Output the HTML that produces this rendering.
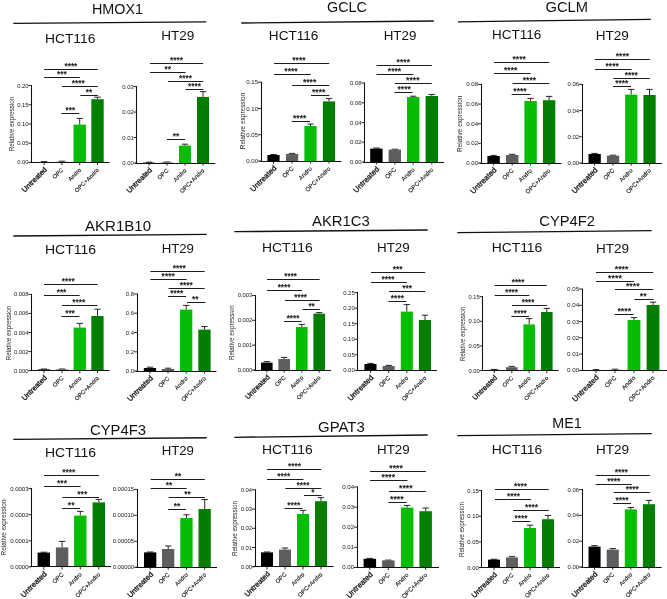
<!DOCTYPE html>
<html><head><meta charset="utf-8"><title>Figure</title>
<style>html,body{margin:0;padding:0;background:#fff;overflow:hidden}svg{display:block}</style>
</head><body>
<svg width="667" height="599" viewBox="0 0 667 599" font-family='"Liberation Sans", Arial, sans-serif'>
<rect width="667" height="599" fill="#fff"/>
<text x="117.5" y="14" font-size="14.5" text-anchor="middle" textLength="51.0" lengthAdjust="spacingAndGlyphs" fill="#111">HMOX1</text>
<line x1="13.3" y1="23.3" x2="206.3" y2="21.8" stroke="#111" stroke-width="1.35"/>
<text x="347.0" y="11.8" font-size="14.5" text-anchor="middle" textLength="40.0" lengthAdjust="spacingAndGlyphs" fill="#111">GCLC</text>
<line x1="241.3" y1="23" x2="433.8" y2="21" stroke="#111" stroke-width="1.35"/>
<text x="566.8" y="12" font-size="14.5" text-anchor="middle" textLength="42.5" lengthAdjust="spacingAndGlyphs" fill="#111">GCLM</text>
<line x1="458" y1="21.8" x2="650.8" y2="19.3" stroke="#111" stroke-width="1.35"/>
<text x="118.0" y="231" font-size="14.5" text-anchor="middle" textLength="66.0" lengthAdjust="spacingAndGlyphs" fill="#111">AKR1B10</text>
<line x1="13.3" y1="236" x2="206.7" y2="234.3" stroke="#111" stroke-width="1.35"/>
<text x="340.9" y="226" font-size="14.5" text-anchor="middle" textLength="57.7" lengthAdjust="spacingAndGlyphs" fill="#111">AKR1C3</text>
<line x1="234.3" y1="231.7" x2="427.7" y2="230" stroke="#111" stroke-width="1.35"/>
<text x="567.1" y="225.7" font-size="14.5" text-anchor="middle" textLength="55.7" lengthAdjust="spacingAndGlyphs" fill="#111">CYP4F2</text>
<line x1="457.3" y1="232.7" x2="651.7" y2="230.7" stroke="#111" stroke-width="1.35"/>
<text x="118.0" y="435" font-size="14.5" text-anchor="middle" textLength="56.0" lengthAdjust="spacingAndGlyphs" fill="#111">CYP4F3</text>
<line x1="13.3" y1="439.3" x2="206.7" y2="437.7" stroke="#111" stroke-width="1.35"/>
<text x="341.4" y="431.7" font-size="14.5" text-anchor="middle" textLength="46.7" lengthAdjust="spacingAndGlyphs" fill="#111">GPAT3</text>
<line x1="234.3" y1="437.3" x2="427.7" y2="435" stroke="#111" stroke-width="1.35"/>
<text x="567.0" y="428.3" font-size="14.5" text-anchor="middle" textLength="29.4" lengthAdjust="spacingAndGlyphs" fill="#111">ME1</text>
<line x1="457.3" y1="435.7" x2="651.7" y2="433.7" stroke="#111" stroke-width="1.35"/>
<text x="70.2" y="42.6" font-size="13.5" text-anchor="middle" textLength="50.5" lengthAdjust="spacingAndGlyphs" fill="#111">HCT116</text>
<text x="177.8" y="40" font-size="13.5" text-anchor="middle" textLength="33.0" lengthAdjust="spacingAndGlyphs" fill="#111">HT29</text>
<text x="293.6" y="40" font-size="13.5" text-anchor="middle" textLength="49.5" lengthAdjust="spacingAndGlyphs" fill="#111">HCT116</text>
<text x="400.0" y="40.2" font-size="13.5" text-anchor="middle" textLength="32.7" lengthAdjust="spacingAndGlyphs" fill="#111">HT29</text>
<text x="516.6" y="39.3" font-size="13.5" text-anchor="middle" textLength="49.3" lengthAdjust="spacingAndGlyphs" fill="#111">HCT116</text>
<text x="612.3" y="39.5" font-size="13.5" text-anchor="middle" textLength="33.0" lengthAdjust="spacingAndGlyphs" fill="#111">HT29</text>
<text x="70.5" y="254.3" font-size="13.5" text-anchor="middle" textLength="51.0" lengthAdjust="spacingAndGlyphs" fill="#111">HCT116</text>
<text x="177.8" y="253.3" font-size="13.5" text-anchor="middle" textLength="32.3" lengthAdjust="spacingAndGlyphs" fill="#111">HT29</text>
<text x="287.4" y="251.7" font-size="13.5" text-anchor="middle" textLength="50.7" lengthAdjust="spacingAndGlyphs" fill="#111">HCT116</text>
<text x="393.4" y="251.7" font-size="13.5" text-anchor="middle" textLength="32.7" lengthAdjust="spacingAndGlyphs" fill="#111">HT29</text>
<text x="517.0" y="251.7" font-size="13.5" text-anchor="middle" textLength="50.6" lengthAdjust="spacingAndGlyphs" fill="#111">HCT116</text>
<text x="612.5" y="253.3" font-size="13.5" text-anchor="middle" textLength="33.0" lengthAdjust="spacingAndGlyphs" fill="#111">HT29</text>
<text x="70.5" y="456.7" font-size="13.5" text-anchor="middle" textLength="51.0" lengthAdjust="spacingAndGlyphs" fill="#111">HCT116</text>
<text x="177.8" y="455" font-size="13.5" text-anchor="middle" textLength="32.3" lengthAdjust="spacingAndGlyphs" fill="#111">HT29</text>
<text x="287.4" y="454.3" font-size="13.5" text-anchor="middle" textLength="50.7" lengthAdjust="spacingAndGlyphs" fill="#111">HCT116</text>
<text x="393.4" y="454.3" font-size="13.5" text-anchor="middle" textLength="32.7" lengthAdjust="spacingAndGlyphs" fill="#111">HT29</text>
<text x="517.0" y="454" font-size="13.5" text-anchor="middle" textLength="50.6" lengthAdjust="spacingAndGlyphs" fill="#111">HCT116</text>
<text x="612.5" y="454.3" font-size="13.5" text-anchor="middle" textLength="33.0" lengthAdjust="spacingAndGlyphs" fill="#111">HT29</text>
<path d="M44.1 162.0V161.6M40.9 161.6H47.3" stroke="#111" stroke-width="0.9" fill="none"/>
<rect x="37.9" y="162.0" width="12.4" height="0.4" fill="#000000"/>
<path d="M61.9 161.8V161.2M58.7 161.2H65.1" stroke="#111" stroke-width="0.9" fill="none"/>
<rect x="55.7" y="161.8" width="12.4" height="0.6" fill="#5e5e5e"/>
<path d="M79.7 124.6V118.4M76.5 118.4H82.9" stroke="#111" stroke-width="0.9" fill="none"/>
<rect x="73.5" y="124.6" width="12.4" height="37.8" fill="#05bd05"/>
<path d="M97.5 99.2V97.2M94.3 97.2H100.7" stroke="#111" stroke-width="0.9" fill="none"/>
<rect x="91.3" y="99.2" width="12.4" height="63.2" fill="#027f02"/>
<path d="M31.5 85.1V162.5M30.0 162.5H109.6" stroke="#111" stroke-width="1.05" fill="none"/>
<line x1="28.4" y1="85.6" x2="31.4" y2="85.6" stroke="#111" stroke-width="0.9"/>
<text x="28.5" y="87.6" font-size="5.83" text-anchor="end" fill="#151515">0.20</text>
<line x1="28.4" y1="104.8" x2="31.4" y2="104.8" stroke="#111" stroke-width="0.9"/>
<text x="28.5" y="106.8" font-size="5.83" text-anchor="end" fill="#151515">0.15</text>
<line x1="28.4" y1="124.0" x2="31.4" y2="124.0" stroke="#111" stroke-width="0.9"/>
<text x="28.5" y="126.0" font-size="5.83" text-anchor="end" fill="#151515">0.10</text>
<line x1="28.4" y1="143.2" x2="31.4" y2="143.2" stroke="#111" stroke-width="0.9"/>
<text x="28.5" y="145.2" font-size="5.83" text-anchor="end" fill="#151515">0.05</text>
<line x1="28.4" y1="162.4" x2="31.4" y2="162.4" stroke="#111" stroke-width="0.9"/>
<text x="28.5" y="164.4" font-size="5.83" text-anchor="end" fill="#151515">0.00</text>
<line x1="44.1" y1="162.4" x2="44.1" y2="165.0" stroke="#111" stroke-width="0.9"/>
<text transform="translate(47.5 170.0) rotate(-45)" font-size="7.32" text-anchor="end" fill="#111" stroke="#111" stroke-width="0.3">Untreated</text>
<line x1="61.9" y1="162.4" x2="61.9" y2="165.0" stroke="#111" stroke-width="0.9"/>
<text transform="translate(63.8 170.4) rotate(-45)" font-size="5.83" text-anchor="end" fill="#111" stroke="#111" stroke-width="0.12">OPC</text>
<line x1="79.7" y1="162.4" x2="79.7" y2="165.0" stroke="#111" stroke-width="0.9"/>
<text transform="translate(81.6 170.4) rotate(-45)" font-size="5.83" text-anchor="end" fill="#111" stroke="#111" stroke-width="0.12">Andro</text>
<line x1="97.5" y1="162.4" x2="97.5" y2="165.0" stroke="#111" stroke-width="0.9"/>
<text transform="translate(99.4 170.4) rotate(-45)" font-size="5.83" text-anchor="end" fill="#111" stroke="#111" stroke-width="0.12">OPC+Andro</text>
<line x1="44" y1="69.5" x2="97.8" y2="69.5" stroke="#1c1c1c" stroke-width="1.05"/>
<text x="70.9" y="69" font-size="8.31" text-anchor="middle" fill="#111" stroke="#111" stroke-width="0.22">****</text>
<line x1="44" y1="77.5" x2="79.8" y2="77.5" stroke="#1c1c1c" stroke-width="1.05"/>
<text x="61.9" y="77" font-size="8.31" text-anchor="middle" fill="#111" stroke="#111" stroke-width="0.22">***</text>
<line x1="62" y1="86.5" x2="97.8" y2="86.5" stroke="#1c1c1c" stroke-width="1.05"/>
<text x="78.2" y="86" font-size="8.31" text-anchor="middle" fill="#111" stroke="#111" stroke-width="0.22">****</text>
<line x1="80.4" y1="95.5" x2="97.8" y2="95.5" stroke="#1c1c1c" stroke-width="1.05"/>
<text x="89.1" y="95" font-size="8.31" text-anchor="middle" fill="#111" stroke="#111" stroke-width="0.22">**</text>
<line x1="61.4" y1="113.5" x2="79.4" y2="113.5" stroke="#1c1c1c" stroke-width="1.05"/>
<text x="70.4" y="113" font-size="8.31" text-anchor="middle" fill="#111" stroke="#111" stroke-width="0.22">***</text>
<text transform="translate(14.2 124) rotate(-90)" font-size="6.27" text-anchor="middle" fill="#222">Relative expression</text>
<path d="M149.0 162.6V162.2M145.8 162.2H152.2" stroke="#111" stroke-width="0.9" fill="none"/>
<rect x="143.0" y="162.6" width="12" height="0.4" fill="#000000"/>
<path d="M167.0 162.5V162.0M163.8 162.0H170.2" stroke="#111" stroke-width="0.9" fill="none"/>
<rect x="161.0" y="162.5" width="12" height="0.5" fill="#5e5e5e"/>
<path d="M185.0 145.6V144.2M181.8 144.2H188.2" stroke="#111" stroke-width="0.9" fill="none"/>
<rect x="179.0" y="145.6" width="12" height="17.4" fill="#05bd05"/>
<path d="M203.0 97.0V91.6M199.8 91.6H206.2" stroke="#111" stroke-width="0.9" fill="none"/>
<rect x="197.0" y="97.0" width="12" height="66.0" fill="#027f02"/>
<path d="M136.5 86.1V163.5M135.2 163.5H215.4" stroke="#111" stroke-width="1.05" fill="none"/>
<line x1="133.6" y1="86.6" x2="136.6" y2="86.6" stroke="#111" stroke-width="0.9"/>
<text x="133.7" y="88.6" font-size="5.90" text-anchor="end" fill="#151515">0.03</text>
<line x1="133.6" y1="112.1" x2="136.6" y2="112.1" stroke="#111" stroke-width="0.9"/>
<text x="133.7" y="114.1" font-size="5.90" text-anchor="end" fill="#151515">0.02</text>
<line x1="133.6" y1="137.5" x2="136.6" y2="137.5" stroke="#111" stroke-width="0.9"/>
<text x="133.7" y="139.5" font-size="5.90" text-anchor="end" fill="#151515">0.01</text>
<line x1="133.6" y1="163.0" x2="136.6" y2="163.0" stroke="#111" stroke-width="0.9"/>
<text x="133.7" y="165.0" font-size="5.90" text-anchor="end" fill="#151515">0.00</text>
<line x1="149.0" y1="163" x2="149.0" y2="165.6" stroke="#111" stroke-width="0.9"/>
<text transform="translate(152.4 170.6) rotate(-45)" font-size="7.40" text-anchor="end" fill="#111" stroke="#111" stroke-width="0.3">Untreated</text>
<line x1="167.0" y1="163" x2="167.0" y2="165.6" stroke="#111" stroke-width="0.9"/>
<text transform="translate(168.9 171.0) rotate(-45)" font-size="5.90" text-anchor="end" fill="#111" stroke="#111" stroke-width="0.12">OPC</text>
<line x1="185.0" y1="163" x2="185.0" y2="165.6" stroke="#111" stroke-width="0.9"/>
<text transform="translate(186.9 171.0) rotate(-45)" font-size="5.90" text-anchor="end" fill="#111" stroke="#111" stroke-width="0.12">Andro</text>
<line x1="203.0" y1="163" x2="203.0" y2="165.6" stroke="#111" stroke-width="0.9"/>
<text transform="translate(204.9 171.0) rotate(-45)" font-size="5.90" text-anchor="end" fill="#111" stroke="#111" stroke-width="0.12">OPC+Andro</text>
<line x1="150" y1="63.5" x2="203.2" y2="63.5" stroke="#1c1c1c" stroke-width="1.05"/>
<text x="176.6" y="63" font-size="8.40" text-anchor="middle" fill="#111" stroke="#111" stroke-width="0.22">****</text>
<line x1="150" y1="72.5" x2="185.6" y2="72.5" stroke="#1c1c1c" stroke-width="1.05"/>
<text x="167.8" y="72" font-size="8.40" text-anchor="middle" fill="#111" stroke="#111" stroke-width="0.22">**</text>
<line x1="168" y1="81.5" x2="203.2" y2="81.5" stroke="#1c1c1c" stroke-width="1.05"/>
<text x="185.6" y="81" font-size="8.40" text-anchor="middle" fill="#111" stroke="#111" stroke-width="0.22">****</text>
<line x1="185.6" y1="89.5" x2="203.4" y2="89.5" stroke="#1c1c1c" stroke-width="1.05"/>
<text x="194.5" y="89" font-size="8.40" text-anchor="middle" fill="#111" stroke="#111" stroke-width="0.22">****</text>
<line x1="167" y1="139.5" x2="185" y2="139.5" stroke="#1c1c1c" stroke-width="1.05"/>
<text x="176.0" y="139" font-size="8.40" text-anchor="middle" fill="#111" stroke="#111" stroke-width="0.22">**</text>
<path d="M273.5 155.0V154.5M270.3 154.5H276.7" stroke="#111" stroke-width="0.9" fill="none"/>
<rect x="267.4" y="155.0" width="12.2" height="6.0" fill="#000000"/>
<path d="M292.1 154.0V153.4M288.9 153.4H295.3" stroke="#111" stroke-width="0.9" fill="none"/>
<rect x="286.0" y="154.0" width="12.2" height="7.0" fill="#5e5e5e"/>
<path d="M310.5 126.0V124.0M307.3 124.0H313.7" stroke="#111" stroke-width="0.9" fill="none"/>
<rect x="304.4" y="126.0" width="12.2" height="35.0" fill="#05bd05"/>
<path d="M329.0 101.4V98.6M325.8 98.6H332.2" stroke="#111" stroke-width="0.9" fill="none"/>
<rect x="322.9" y="101.4" width="12.2" height="59.6" fill="#027f02"/>
<path d="M261.5 81.7V161.5M259.6 161.5H341.4" stroke="#111" stroke-width="1.05" fill="none"/>
<line x1="258.0" y1="82.2" x2="261" y2="82.2" stroke="#111" stroke-width="0.9"/>
<text x="258.1" y="84.2" font-size="6.06" text-anchor="end" fill="#151515">0.15</text>
<line x1="258.0" y1="108.5" x2="261" y2="108.5" stroke="#111" stroke-width="0.9"/>
<text x="258.1" y="110.5" font-size="6.06" text-anchor="end" fill="#151515">0.10</text>
<line x1="258.0" y1="134.7" x2="261" y2="134.7" stroke="#111" stroke-width="0.9"/>
<text x="258.1" y="136.7" font-size="6.06" text-anchor="end" fill="#151515">0.05</text>
<line x1="258.0" y1="161.0" x2="261" y2="161.0" stroke="#111" stroke-width="0.9"/>
<text x="258.1" y="163.0" font-size="6.06" text-anchor="end" fill="#151515">0.00</text>
<line x1="273.5" y1="161" x2="273.5" y2="163.6" stroke="#111" stroke-width="0.9"/>
<text transform="translate(276.9 168.6) rotate(-45)" font-size="7.61" text-anchor="end" fill="#111" stroke="#111" stroke-width="0.3">Untreated</text>
<line x1="292.1" y1="161" x2="292.1" y2="163.6" stroke="#111" stroke-width="0.9"/>
<text transform="translate(294.0 169.0) rotate(-45)" font-size="6.06" text-anchor="end" fill="#111" stroke="#111" stroke-width="0.12">OPC</text>
<line x1="310.5" y1="161" x2="310.5" y2="163.6" stroke="#111" stroke-width="0.9"/>
<text transform="translate(312.4 169.0) rotate(-45)" font-size="6.06" text-anchor="end" fill="#111" stroke="#111" stroke-width="0.12">Andro</text>
<line x1="329.0" y1="161" x2="329.0" y2="163.6" stroke="#111" stroke-width="0.9"/>
<text transform="translate(330.9 169.0) rotate(-45)" font-size="6.06" text-anchor="end" fill="#111" stroke="#111" stroke-width="0.12">OPC+Andro</text>
<line x1="274" y1="63.5" x2="329.2" y2="63.5" stroke="#1c1c1c" stroke-width="1.05"/>
<text x="298.9" y="63" font-size="8.63" text-anchor="middle" fill="#111" stroke="#111" stroke-width="0.22">****</text>
<line x1="274" y1="74.5" x2="310.6" y2="74.5" stroke="#1c1c1c" stroke-width="1.05"/>
<text x="291.0" y="74" font-size="8.63" text-anchor="middle" fill="#111" stroke="#111" stroke-width="0.22">****</text>
<line x1="292" y1="85.5" x2="329.2" y2="85.5" stroke="#1c1c1c" stroke-width="1.05"/>
<text x="309.6" y="85" font-size="8.63" text-anchor="middle" fill="#111" stroke="#111" stroke-width="0.22">****</text>
<line x1="311" y1="95.5" x2="329.4" y2="95.5" stroke="#1c1c1c" stroke-width="1.05"/>
<text x="318.7" y="95" font-size="8.63" text-anchor="middle" fill="#111" stroke="#111" stroke-width="0.22">****</text>
<line x1="291.6" y1="121.5" x2="310" y2="121.5" stroke="#1c1c1c" stroke-width="1.05"/>
<text x="299.7" y="121" font-size="8.63" text-anchor="middle" fill="#111" stroke="#111" stroke-width="0.22">****</text>
<text transform="translate(244.8 121) rotate(-90)" font-size="6.47" text-anchor="middle" fill="#222">Relative expression</text>
<path d="M376.4 148.6V148.0M373.2 148.0H379.6" stroke="#111" stroke-width="0.9" fill="none"/>
<rect x="370.2" y="148.6" width="12.4" height="13.4" fill="#000000"/>
<path d="M394.8 149.6V149.2M391.6 149.2H398.0" stroke="#111" stroke-width="0.9" fill="none"/>
<rect x="388.6" y="149.6" width="12.4" height="12.4" fill="#5e5e5e"/>
<path d="M413.2 97.0V96.2M410.0 96.2H416.4" stroke="#111" stroke-width="0.9" fill="none"/>
<rect x="407.0" y="97.0" width="12.4" height="65.0" fill="#05bd05"/>
<path d="M431.8 96.0V94.4M428.6 94.4H435.0" stroke="#111" stroke-width="0.9" fill="none"/>
<rect x="425.6" y="96.0" width="12.4" height="66.0" fill="#027f02"/>
<path d="M364.5 82.5V162.5M363.2 162.5H444" stroke="#111" stroke-width="1.05" fill="none"/>
<line x1="361.6" y1="83.0" x2="364.6" y2="83.0" stroke="#111" stroke-width="0.9"/>
<text x="361.7" y="85.0" font-size="6.05" text-anchor="end" fill="#151515">0.08</text>
<line x1="361.6" y1="102.8" x2="364.6" y2="102.8" stroke="#111" stroke-width="0.9"/>
<text x="361.7" y="104.8" font-size="6.05" text-anchor="end" fill="#151515">0.06</text>
<line x1="361.6" y1="122.5" x2="364.6" y2="122.5" stroke="#111" stroke-width="0.9"/>
<text x="361.7" y="124.5" font-size="6.05" text-anchor="end" fill="#151515">0.04</text>
<line x1="361.6" y1="142.2" x2="364.6" y2="142.2" stroke="#111" stroke-width="0.9"/>
<text x="361.7" y="144.2" font-size="6.05" text-anchor="end" fill="#151515">0.02</text>
<line x1="361.6" y1="162.0" x2="364.6" y2="162.0" stroke="#111" stroke-width="0.9"/>
<text x="361.7" y="164.0" font-size="6.05" text-anchor="end" fill="#151515">0.00</text>
<line x1="376.4" y1="162" x2="376.4" y2="164.6" stroke="#111" stroke-width="0.9"/>
<text transform="translate(379.8 169.6) rotate(-45)" font-size="7.59" text-anchor="end" fill="#111" stroke="#111" stroke-width="0.3">Untreated</text>
<line x1="394.8" y1="162" x2="394.8" y2="164.6" stroke="#111" stroke-width="0.9"/>
<text transform="translate(396.7 170.0) rotate(-45)" font-size="6.05" text-anchor="end" fill="#111" stroke="#111" stroke-width="0.12">OPC</text>
<line x1="413.2" y1="162" x2="413.2" y2="164.6" stroke="#111" stroke-width="0.9"/>
<text transform="translate(415.1 170.0) rotate(-45)" font-size="6.05" text-anchor="end" fill="#111" stroke="#111" stroke-width="0.12">Andro</text>
<line x1="431.8" y1="162" x2="431.8" y2="164.6" stroke="#111" stroke-width="0.9"/>
<text transform="translate(433.7 170.0) rotate(-45)" font-size="6.05" text-anchor="end" fill="#111" stroke="#111" stroke-width="0.12">OPC+Andro</text>
<line x1="376.6" y1="65.5" x2="431.8" y2="65.5" stroke="#1c1c1c" stroke-width="1.05"/>
<text x="403.3" y="65" font-size="8.62" text-anchor="middle" fill="#111" stroke="#111" stroke-width="0.22">****</text>
<line x1="376.6" y1="74.5" x2="413.4" y2="74.5" stroke="#1c1c1c" stroke-width="1.05"/>
<text x="394.5" y="74" font-size="8.62" text-anchor="middle" fill="#111" stroke="#111" stroke-width="0.22">****</text>
<line x1="395" y1="83.5" x2="431.8" y2="83.5" stroke="#1c1c1c" stroke-width="1.05"/>
<text x="412.8" y="83" font-size="8.62" text-anchor="middle" fill="#111" stroke="#111" stroke-width="0.22">****</text>
<line x1="394.6" y1="92.5" x2="412.6" y2="92.5" stroke="#1c1c1c" stroke-width="1.05"/>
<text x="404.2" y="92" font-size="8.62" text-anchor="middle" fill="#111" stroke="#111" stroke-width="0.22">****</text>
<path d="M493.6 156.0V155.4M490.4 155.4H496.8" stroke="#111" stroke-width="0.9" fill="none"/>
<rect x="487.4" y="156.0" width="12.4" height="7.0" fill="#000000"/>
<path d="M512.2 155.0V154.3M509.0 154.3H515.4" stroke="#111" stroke-width="0.9" fill="none"/>
<rect x="506.0" y="155.0" width="12.4" height="8.0" fill="#5e5e5e"/>
<path d="M530.6 101.0V98.4M527.4 98.4H533.8" stroke="#111" stroke-width="0.9" fill="none"/>
<rect x="524.4" y="101.0" width="12.4" height="62.0" fill="#05bd05"/>
<path d="M549.1 100.2V96.4M545.9 96.4H552.3" stroke="#111" stroke-width="0.9" fill="none"/>
<rect x="542.9" y="100.2" width="12.4" height="62.8" fill="#027f02"/>
<path d="M481.5 83.9V163.5M479.6 163.5H561.4" stroke="#111" stroke-width="1.05" fill="none"/>
<line x1="478.0" y1="84.4" x2="481" y2="84.4" stroke="#111" stroke-width="0.9"/>
<text x="478.1" y="86.4" font-size="6.06" text-anchor="end" fill="#151515">0.08</text>
<line x1="478.0" y1="104.1" x2="481" y2="104.1" stroke="#111" stroke-width="0.9"/>
<text x="478.1" y="106.1" font-size="6.06" text-anchor="end" fill="#151515">0.06</text>
<line x1="478.0" y1="123.7" x2="481" y2="123.7" stroke="#111" stroke-width="0.9"/>
<text x="478.1" y="125.7" font-size="6.06" text-anchor="end" fill="#151515">0.04</text>
<line x1="478.0" y1="143.3" x2="481" y2="143.3" stroke="#111" stroke-width="0.9"/>
<text x="478.1" y="145.3" font-size="6.06" text-anchor="end" fill="#151515">0.02</text>
<line x1="478.0" y1="163.0" x2="481" y2="163.0" stroke="#111" stroke-width="0.9"/>
<text x="478.1" y="165.0" font-size="6.06" text-anchor="end" fill="#151515">0.00</text>
<line x1="493.6" y1="163" x2="493.6" y2="165.6" stroke="#111" stroke-width="0.9"/>
<text transform="translate(497.0 170.6) rotate(-45)" font-size="7.61" text-anchor="end" fill="#111" stroke="#111" stroke-width="0.3">Untreated</text>
<line x1="512.2" y1="163" x2="512.2" y2="165.6" stroke="#111" stroke-width="0.9"/>
<text transform="translate(514.1 171.0) rotate(-45)" font-size="6.06" text-anchor="end" fill="#111" stroke="#111" stroke-width="0.12">OPC</text>
<line x1="530.6" y1="163" x2="530.6" y2="165.6" stroke="#111" stroke-width="0.9"/>
<text transform="translate(532.5 171.0) rotate(-45)" font-size="6.06" text-anchor="end" fill="#111" stroke="#111" stroke-width="0.12">Andro</text>
<line x1="549.1" y1="163" x2="549.1" y2="165.6" stroke="#111" stroke-width="0.9"/>
<text transform="translate(551.0 171.0) rotate(-45)" font-size="6.06" text-anchor="end" fill="#111" stroke="#111" stroke-width="0.12">OPC+Andro</text>
<line x1="494" y1="62.5" x2="549.2" y2="62.5" stroke="#1c1c1c" stroke-width="1.05"/>
<text x="519.2" y="62" font-size="8.63" text-anchor="middle" fill="#111" stroke="#111" stroke-width="0.22">****</text>
<line x1="494" y1="73.5" x2="530.6" y2="73.5" stroke="#1c1c1c" stroke-width="1.05"/>
<text x="510.7" y="73" font-size="8.63" text-anchor="middle" fill="#111" stroke="#111" stroke-width="0.22">****</text>
<line x1="512.6" y1="83.5" x2="549.2" y2="83.5" stroke="#1c1c1c" stroke-width="1.05"/>
<text x="529.4" y="83" font-size="8.63" text-anchor="middle" fill="#111" stroke="#111" stroke-width="0.22">****</text>
<line x1="511.6" y1="94.5" x2="530.4" y2="94.5" stroke="#1c1c1c" stroke-width="1.05"/>
<text x="520.0" y="94" font-size="8.63" text-anchor="middle" fill="#111" stroke="#111" stroke-width="0.22">****</text>
<text transform="translate(461.6 123.8) rotate(-90)" font-size="6.47" text-anchor="middle" fill="#222">Relative expression</text>
<path d="M594.6 154.0V153.4M591.4 153.4H597.8" stroke="#111" stroke-width="0.9" fill="none"/>
<rect x="588.5" y="154.0" width="12.3" height="9.0" fill="#000000"/>
<path d="M613.0 155.6V155.2M609.8 155.2H616.2" stroke="#111" stroke-width="0.9" fill="none"/>
<rect x="606.9" y="155.6" width="12.3" height="7.4" fill="#5e5e5e"/>
<path d="M631.2 94.6V89.4M628.0 89.4H634.4" stroke="#111" stroke-width="0.9" fill="none"/>
<rect x="625.1" y="94.6" width="12.3" height="68.4" fill="#05bd05"/>
<path d="M649.5 95.0V89.4M646.3 89.4H652.7" stroke="#111" stroke-width="0.9" fill="none"/>
<rect x="643.4" y="95.0" width="12.3" height="68.0" fill="#027f02"/>
<path d="M582.5 83.9V163.5M580.6 163.5H662" stroke="#111" stroke-width="1.05" fill="none"/>
<line x1="579.0" y1="84.4" x2="582" y2="84.4" stroke="#111" stroke-width="0.9"/>
<text x="579.1" y="86.4" font-size="6.00" text-anchor="end" fill="#151515">0.06</text>
<line x1="579.0" y1="110.6" x2="582" y2="110.6" stroke="#111" stroke-width="0.9"/>
<text x="579.1" y="112.6" font-size="6.00" text-anchor="end" fill="#151515">0.04</text>
<line x1="579.0" y1="136.8" x2="582" y2="136.8" stroke="#111" stroke-width="0.9"/>
<text x="579.1" y="138.8" font-size="6.00" text-anchor="end" fill="#151515">0.02</text>
<line x1="579.0" y1="163.0" x2="582" y2="163.0" stroke="#111" stroke-width="0.9"/>
<text x="579.1" y="165.0" font-size="6.00" text-anchor="end" fill="#151515">0.00</text>
<line x1="594.6" y1="163" x2="594.6" y2="165.6" stroke="#111" stroke-width="0.9"/>
<text transform="translate(598.0 170.6) rotate(-45)" font-size="7.52" text-anchor="end" fill="#111" stroke="#111" stroke-width="0.3">Untreated</text>
<line x1="613.0" y1="163" x2="613.0" y2="165.6" stroke="#111" stroke-width="0.9"/>
<text transform="translate(614.9 171.0) rotate(-45)" font-size="6.00" text-anchor="end" fill="#111" stroke="#111" stroke-width="0.12">OPC</text>
<line x1="631.2" y1="163" x2="631.2" y2="165.6" stroke="#111" stroke-width="0.9"/>
<text transform="translate(633.1 171.0) rotate(-45)" font-size="6.00" text-anchor="end" fill="#111" stroke="#111" stroke-width="0.12">Andro</text>
<line x1="649.5" y1="163" x2="649.5" y2="165.6" stroke="#111" stroke-width="0.9"/>
<text transform="translate(651.4 171.0) rotate(-45)" font-size="6.00" text-anchor="end" fill="#111" stroke="#111" stroke-width="0.12">OPC+Andro</text>
<line x1="595" y1="59.5" x2="649.8" y2="59.5" stroke="#1c1c1c" stroke-width="1.05"/>
<text x="622.4" y="59" font-size="8.54" text-anchor="middle" fill="#111" stroke="#111" stroke-width="0.22">****</text>
<line x1="595" y1="69.5" x2="631.4" y2="69.5" stroke="#1c1c1c" stroke-width="1.05"/>
<text x="612.2" y="69" font-size="8.54" text-anchor="middle" fill="#111" stroke="#111" stroke-width="0.22">****</text>
<line x1="613.4" y1="78.5" x2="649.8" y2="78.5" stroke="#1c1c1c" stroke-width="1.05"/>
<text x="631.3" y="78" font-size="8.54" text-anchor="middle" fill="#111" stroke="#111" stroke-width="0.22">****</text>
<line x1="613" y1="86.5" x2="631" y2="86.5" stroke="#1c1c1c" stroke-width="1.05"/>
<text x="621.8" y="86" font-size="8.54" text-anchor="middle" fill="#111" stroke="#111" stroke-width="0.22">****</text>
<path d="M44.0 369.4V369.0M40.8 369.0H47.2" stroke="#111" stroke-width="0.9" fill="none"/>
<rect x="37.9" y="369.4" width="12.3" height="1.2" fill="#000000"/>
<path d="M62.0 369.4V369.0M58.8 369.0H65.2" stroke="#111" stroke-width="0.9" fill="none"/>
<rect x="55.9" y="369.4" width="12.3" height="1.2" fill="#5e5e5e"/>
<path d="M79.8 327.6V323.4M76.6 323.4H83.0" stroke="#111" stroke-width="0.9" fill="none"/>
<rect x="73.6" y="327.6" width="12.3" height="43.0" fill="#05bd05"/>
<path d="M97.5 316.0V309.2M94.3 309.2H100.7" stroke="#111" stroke-width="0.9" fill="none"/>
<rect x="91.3" y="316.0" width="12.3" height="54.6" fill="#027f02"/>
<path d="M31.5 293.9V370.5M30.0 370.5H109.6" stroke="#111" stroke-width="1.05" fill="none"/>
<line x1="28.4" y1="294.4" x2="31.4" y2="294.4" stroke="#111" stroke-width="0.9"/>
<text x="28.5" y="296.4" font-size="5.85" text-anchor="end" fill="#151515">0.008</text>
<line x1="28.4" y1="313.4" x2="31.4" y2="313.4" stroke="#111" stroke-width="0.9"/>
<text x="28.5" y="315.4" font-size="5.85" text-anchor="end" fill="#151515">0.006</text>
<line x1="28.4" y1="332.5" x2="31.4" y2="332.5" stroke="#111" stroke-width="0.9"/>
<text x="28.5" y="334.5" font-size="5.85" text-anchor="end" fill="#151515">0.004</text>
<line x1="28.4" y1="351.6" x2="31.4" y2="351.6" stroke="#111" stroke-width="0.9"/>
<text x="28.5" y="353.6" font-size="5.85" text-anchor="end" fill="#151515">0.002</text>
<line x1="28.4" y1="370.6" x2="31.4" y2="370.6" stroke="#111" stroke-width="0.9"/>
<text x="28.5" y="372.6" font-size="5.85" text-anchor="end" fill="#151515">0.000</text>
<line x1="44.0" y1="370.6" x2="44.0" y2="373.2" stroke="#111" stroke-width="0.9"/>
<text transform="translate(47.4 378.2) rotate(-45)" font-size="7.33" text-anchor="end" fill="#111" stroke="#111" stroke-width="0.3">Untreated</text>
<line x1="62.0" y1="370.6" x2="62.0" y2="373.2" stroke="#111" stroke-width="0.9"/>
<text transform="translate(63.9 378.6) rotate(-45)" font-size="5.85" text-anchor="end" fill="#111" stroke="#111" stroke-width="0.12">OPC</text>
<line x1="79.8" y1="370.6" x2="79.8" y2="373.2" stroke="#111" stroke-width="0.9"/>
<text transform="translate(81.7 378.6) rotate(-45)" font-size="5.85" text-anchor="end" fill="#111" stroke="#111" stroke-width="0.12">Andro</text>
<line x1="97.5" y1="370.6" x2="97.5" y2="373.2" stroke="#111" stroke-width="0.9"/>
<text transform="translate(99.4 378.6) rotate(-45)" font-size="5.85" text-anchor="end" fill="#111" stroke="#111" stroke-width="0.12">OPC+Andro</text>
<line x1="44" y1="284.5" x2="97.6" y2="284.5" stroke="#1c1c1c" stroke-width="1.05"/>
<text x="68.3" y="284" font-size="8.32" text-anchor="middle" fill="#111" stroke="#111" stroke-width="0.22">****</text>
<line x1="44" y1="295.5" x2="79.6" y2="295.5" stroke="#1c1c1c" stroke-width="1.05"/>
<text x="61.5" y="295" font-size="8.32" text-anchor="middle" fill="#111" stroke="#111" stroke-width="0.22">***</text>
<line x1="62" y1="305.5" x2="97.6" y2="305.5" stroke="#1c1c1c" stroke-width="1.05"/>
<text x="78.8" y="305" font-size="8.32" text-anchor="middle" fill="#111" stroke="#111" stroke-width="0.22">****</text>
<line x1="61.4" y1="316.5" x2="79.4" y2="316.5" stroke="#1c1c1c" stroke-width="1.05"/>
<text x="70.0" y="316" font-size="8.32" text-anchor="middle" fill="#111" stroke="#111" stroke-width="0.22">***</text>
<text transform="translate(10.6 333) rotate(-90)" font-size="6.27" text-anchor="middle" fill="#222">Relative expression</text>
<path d="M150.0 368.0V367.2M146.8 367.2H153.2" stroke="#111" stroke-width="0.9" fill="none"/>
<rect x="143.8" y="368.0" width="12.3" height="3.0" fill="#000000"/>
<path d="M168.0 369.0V368.2M164.8 368.2H171.2" stroke="#111" stroke-width="0.9" fill="none"/>
<rect x="161.8" y="369.0" width="12.3" height="2.0" fill="#5e5e5e"/>
<path d="M186.2 309.6V305.4M183.0 305.4H189.4" stroke="#111" stroke-width="0.9" fill="none"/>
<rect x="180.0" y="309.6" width="12.3" height="61.4" fill="#05bd05"/>
<path d="M204.5 329.6V326.6M201.3 326.6H207.7" stroke="#111" stroke-width="0.9" fill="none"/>
<rect x="198.3" y="329.6" width="12.3" height="41.4" fill="#027f02"/>
<path d="M137.5 293.5V371.5M135.6 371.5H216.4" stroke="#111" stroke-width="1.05" fill="none"/>
<line x1="134.0" y1="294.0" x2="137" y2="294.0" stroke="#111" stroke-width="0.9"/>
<text x="134.1" y="296.0" font-size="5.95" text-anchor="end" fill="#151515">0.8</text>
<line x1="134.0" y1="313.2" x2="137" y2="313.2" stroke="#111" stroke-width="0.9"/>
<text x="134.1" y="315.2" font-size="5.95" text-anchor="end" fill="#151515">0.6</text>
<line x1="134.0" y1="332.5" x2="137" y2="332.5" stroke="#111" stroke-width="0.9"/>
<text x="134.1" y="334.5" font-size="5.95" text-anchor="end" fill="#151515">0.4</text>
<line x1="134.0" y1="351.8" x2="137" y2="351.8" stroke="#111" stroke-width="0.9"/>
<text x="134.1" y="353.8" font-size="5.95" text-anchor="end" fill="#151515">0.2</text>
<line x1="134.0" y1="371.0" x2="137" y2="371.0" stroke="#111" stroke-width="0.9"/>
<text x="134.1" y="373.0" font-size="5.95" text-anchor="end" fill="#151515">0.0</text>
<line x1="150.0" y1="371" x2="150.0" y2="373.6" stroke="#111" stroke-width="0.9"/>
<text transform="translate(153.4 378.6) rotate(-45)" font-size="7.47" text-anchor="end" fill="#111" stroke="#111" stroke-width="0.3">Untreated</text>
<line x1="168.0" y1="371" x2="168.0" y2="373.6" stroke="#111" stroke-width="0.9"/>
<text transform="translate(169.9 379.0) rotate(-45)" font-size="5.95" text-anchor="end" fill="#111" stroke="#111" stroke-width="0.12">OPC</text>
<line x1="186.2" y1="371" x2="186.2" y2="373.6" stroke="#111" stroke-width="0.9"/>
<text transform="translate(188.1 379.0) rotate(-45)" font-size="5.95" text-anchor="end" fill="#111" stroke="#111" stroke-width="0.12">Andro</text>
<line x1="204.5" y1="371" x2="204.5" y2="373.6" stroke="#111" stroke-width="0.9"/>
<text transform="translate(206.4 379.0) rotate(-45)" font-size="5.95" text-anchor="end" fill="#111" stroke="#111" stroke-width="0.12">OPC+Andro</text>
<line x1="150.4" y1="271.5" x2="204.6" y2="271.5" stroke="#1c1c1c" stroke-width="1.05"/>
<text x="179.3" y="271" font-size="8.48" text-anchor="middle" fill="#111" stroke="#111" stroke-width="0.22">****</text>
<line x1="150.4" y1="279.5" x2="186.6" y2="279.5" stroke="#1c1c1c" stroke-width="1.05"/>
<text x="168.2" y="279" font-size="8.48" text-anchor="middle" fill="#111" stroke="#111" stroke-width="0.22">****</text>
<line x1="168.6" y1="288.5" x2="204.6" y2="288.5" stroke="#1c1c1c" stroke-width="1.05"/>
<text x="186.3" y="288" font-size="8.48" text-anchor="middle" fill="#111" stroke="#111" stroke-width="0.22">****</text>
<line x1="168" y1="296.5" x2="186" y2="296.5" stroke="#1c1c1c" stroke-width="1.05"/>
<text x="176.8" y="296" font-size="8.48" text-anchor="middle" fill="#111" stroke="#111" stroke-width="0.22">****</text>
<line x1="187" y1="302.5" x2="205.4" y2="302.5" stroke="#1c1c1c" stroke-width="1.05"/>
<text x="195.3" y="302" font-size="8.48" text-anchor="middle" fill="#111" stroke="#111" stroke-width="0.22">**</text>
<path d="M266.8 362.6V361.6M263.6 361.6H270.0" stroke="#111" stroke-width="0.9" fill="none"/>
<rect x="261.0" y="362.6" width="11.6" height="7.4" fill="#000000"/>
<path d="M284.2 359.0V357.4M281.0 357.4H287.4" stroke="#111" stroke-width="0.9" fill="none"/>
<rect x="278.4" y="359.0" width="11.6" height="11.0" fill="#5e5e5e"/>
<path d="M301.8 327.0V324.4M298.6 324.4H305.0" stroke="#111" stroke-width="0.9" fill="none"/>
<rect x="296.0" y="327.0" width="11.6" height="43.0" fill="#05bd05"/>
<path d="M319.2 313.6V312.6M316.0 312.6H322.4" stroke="#111" stroke-width="0.9" fill="none"/>
<rect x="313.4" y="313.6" width="11.6" height="56.4" fill="#027f02"/>
<path d="M255.5 294.9V370.5M253.6 370.5H331" stroke="#111" stroke-width="1.05" fill="none"/>
<line x1="252.0" y1="295.4" x2="255" y2="295.4" stroke="#111" stroke-width="0.9"/>
<text x="252.1" y="297.4" font-size="5.77" text-anchor="end" fill="#151515">0.003</text>
<line x1="252.0" y1="320.3" x2="255" y2="320.3" stroke="#111" stroke-width="0.9"/>
<text x="252.1" y="322.3" font-size="5.77" text-anchor="end" fill="#151515">0.002</text>
<line x1="252.0" y1="345.1" x2="255" y2="345.1" stroke="#111" stroke-width="0.9"/>
<text x="252.1" y="347.1" font-size="5.77" text-anchor="end" fill="#151515">0.001</text>
<line x1="252.0" y1="370.0" x2="255" y2="370.0" stroke="#111" stroke-width="0.9"/>
<text x="252.1" y="372.0" font-size="5.77" text-anchor="end" fill="#151515">0.000</text>
<line x1="266.8" y1="370" x2="266.8" y2="372.6" stroke="#111" stroke-width="0.9"/>
<text transform="translate(270.2 377.6) rotate(-45)" font-size="7.18" text-anchor="end" fill="#111" stroke="#111" stroke-width="0.3">Untreated</text>
<line x1="284.2" y1="370" x2="284.2" y2="372.6" stroke="#111" stroke-width="0.9"/>
<text transform="translate(286.1 378.0) rotate(-45)" font-size="5.77" text-anchor="end" fill="#111" stroke="#111" stroke-width="0.12">OPC</text>
<line x1="301.8" y1="370" x2="301.8" y2="372.6" stroke="#111" stroke-width="0.9"/>
<text transform="translate(303.7 378.0) rotate(-45)" font-size="5.77" text-anchor="end" fill="#111" stroke="#111" stroke-width="0.12">Andro</text>
<line x1="319.2" y1="370" x2="319.2" y2="372.6" stroke="#111" stroke-width="0.9"/>
<text transform="translate(321.1 378.0) rotate(-45)" font-size="5.77" text-anchor="end" fill="#111" stroke="#111" stroke-width="0.12">OPC+Andro</text>
<line x1="267" y1="279.5" x2="319.6" y2="279.5" stroke="#1c1c1c" stroke-width="1.05"/>
<text x="290.7" y="279" font-size="8.15" text-anchor="middle" fill="#111" stroke="#111" stroke-width="0.22">****</text>
<line x1="267" y1="290.5" x2="302" y2="290.5" stroke="#1c1c1c" stroke-width="1.05"/>
<text x="284.0" y="290" font-size="8.15" text-anchor="middle" fill="#111" stroke="#111" stroke-width="0.22">****</text>
<line x1="285" y1="300.5" x2="319.6" y2="300.5" stroke="#1c1c1c" stroke-width="1.05"/>
<text x="300.7" y="300" font-size="8.15" text-anchor="middle" fill="#111" stroke="#111" stroke-width="0.22">****</text>
<line x1="302.6" y1="309.5" x2="319.8" y2="309.5" stroke="#1c1c1c" stroke-width="1.05"/>
<text x="311.6" y="309" font-size="8.15" text-anchor="middle" fill="#111" stroke="#111" stroke-width="0.22">**</text>
<line x1="284" y1="321.5" x2="301.6" y2="321.5" stroke="#1c1c1c" stroke-width="1.05"/>
<text x="293.0" y="321" font-size="8.15" text-anchor="middle" fill="#111" stroke="#111" stroke-width="0.22">****</text>
<text transform="translate(234.2 332.7) rotate(-90)" font-size="6.27" text-anchor="middle" fill="#222">Relative expression</text>
<path d="M370.5 364.0V363.4M367.3 363.4H373.7" stroke="#111" stroke-width="0.9" fill="none"/>
<rect x="364.4" y="364.0" width="12.1" height="6.4" fill="#000000"/>
<path d="M388.7 366.0V365.4M385.5 365.4H391.9" stroke="#111" stroke-width="0.9" fill="none"/>
<rect x="382.6" y="366.0" width="12.1" height="4.4" fill="#5e5e5e"/>
<path d="M406.8 311.6V304.6M403.6 304.6H410.0" stroke="#111" stroke-width="0.9" fill="none"/>
<rect x="400.8" y="311.6" width="12.1" height="58.8" fill="#05bd05"/>
<path d="M425.0 320.0V315.2M421.8 315.2H428.2" stroke="#111" stroke-width="0.9" fill="none"/>
<rect x="418.9" y="320.0" width="12.1" height="50.4" fill="#027f02"/>
<path d="M357.5 292.1V370.5M356.2 370.5H437" stroke="#111" stroke-width="1.05" fill="none"/>
<line x1="354.6" y1="292.6" x2="357.6" y2="292.6" stroke="#111" stroke-width="0.9"/>
<text x="354.7" y="294.6" font-size="5.95" text-anchor="end" fill="#151515">0.25</text>
<line x1="354.6" y1="308.2" x2="357.6" y2="308.2" stroke="#111" stroke-width="0.9"/>
<text x="354.7" y="310.2" font-size="5.95" text-anchor="end" fill="#151515">0.20</text>
<line x1="354.6" y1="323.7" x2="357.6" y2="323.7" stroke="#111" stroke-width="0.9"/>
<text x="354.7" y="325.7" font-size="5.95" text-anchor="end" fill="#151515">0.15</text>
<line x1="354.6" y1="339.3" x2="357.6" y2="339.3" stroke="#111" stroke-width="0.9"/>
<text x="354.7" y="341.3" font-size="5.95" text-anchor="end" fill="#151515">0.10</text>
<line x1="354.6" y1="354.8" x2="357.6" y2="354.8" stroke="#111" stroke-width="0.9"/>
<text x="354.7" y="356.8" font-size="5.95" text-anchor="end" fill="#151515">0.05</text>
<line x1="354.6" y1="370.4" x2="357.6" y2="370.4" stroke="#111" stroke-width="0.9"/>
<text x="354.7" y="372.4" font-size="5.95" text-anchor="end" fill="#151515">0.00</text>
<line x1="370.5" y1="370.4" x2="370.5" y2="373.0" stroke="#111" stroke-width="0.9"/>
<text transform="translate(373.9 378.0) rotate(-45)" font-size="7.47" text-anchor="end" fill="#111" stroke="#111" stroke-width="0.3">Untreated</text>
<line x1="388.7" y1="370.4" x2="388.7" y2="373.0" stroke="#111" stroke-width="0.9"/>
<text transform="translate(390.6 378.4) rotate(-45)" font-size="5.95" text-anchor="end" fill="#111" stroke="#111" stroke-width="0.12">OPC</text>
<line x1="406.8" y1="370.4" x2="406.8" y2="373.0" stroke="#111" stroke-width="0.9"/>
<text transform="translate(408.7 378.4) rotate(-45)" font-size="5.95" text-anchor="end" fill="#111" stroke="#111" stroke-width="0.12">Andro</text>
<line x1="425.0" y1="370.4" x2="425.0" y2="373.0" stroke="#111" stroke-width="0.9"/>
<text transform="translate(426.9 378.4) rotate(-45)" font-size="5.95" text-anchor="end" fill="#111" stroke="#111" stroke-width="0.12">OPC+Andro</text>
<line x1="371" y1="272.5" x2="425.2" y2="272.5" stroke="#1c1c1c" stroke-width="1.05"/>
<text x="397.6" y="272" font-size="8.48" text-anchor="middle" fill="#111" stroke="#111" stroke-width="0.22">***</text>
<line x1="371" y1="282.5" x2="407" y2="282.5" stroke="#1c1c1c" stroke-width="1.05"/>
<text x="388.0" y="282" font-size="8.48" text-anchor="middle" fill="#111" stroke="#111" stroke-width="0.22">****</text>
<line x1="389" y1="291.5" x2="425.2" y2="291.5" stroke="#1c1c1c" stroke-width="1.05"/>
<text x="407.1" y="291" font-size="8.48" text-anchor="middle" fill="#111" stroke="#111" stroke-width="0.22">***</text>
<line x1="388.4" y1="301.5" x2="406.4" y2="301.5" stroke="#1c1c1c" stroke-width="1.05"/>
<text x="397.4" y="301" font-size="8.48" text-anchor="middle" fill="#111" stroke="#111" stroke-width="0.22">****</text>
<path d="M494.3 369.8V369.4M491.1 369.4H497.5" stroke="#111" stroke-width="0.9" fill="none"/>
<rect x="488.5" y="369.8" width="11.6" height="0.8" fill="#000000"/>
<path d="M511.8 367.2V366.4M508.6 366.4H515.0" stroke="#111" stroke-width="0.9" fill="none"/>
<rect x="506.0" y="367.2" width="11.6" height="3.4" fill="#5e5e5e"/>
<path d="M529.2 324.4V318.6M526.0 318.6H532.4" stroke="#111" stroke-width="0.9" fill="none"/>
<rect x="523.4" y="324.4" width="11.6" height="46.2" fill="#05bd05"/>
<path d="M546.8 312.0V308.4M543.6 308.4H550.0" stroke="#111" stroke-width="0.9" fill="none"/>
<rect x="541.0" y="312.0" width="11.6" height="58.6" fill="#027f02"/>
<path d="M482.5 296.1V370.5M481.2 370.5H558.6" stroke="#111" stroke-width="1.05" fill="none"/>
<line x1="479.6" y1="296.6" x2="482.6" y2="296.6" stroke="#111" stroke-width="0.9"/>
<text x="479.7" y="298.6" font-size="5.77" text-anchor="end" fill="#151515">0.15</text>
<line x1="479.6" y1="321.3" x2="482.6" y2="321.3" stroke="#111" stroke-width="0.9"/>
<text x="479.7" y="323.3" font-size="5.77" text-anchor="end" fill="#151515">0.10</text>
<line x1="479.6" y1="345.9" x2="482.6" y2="345.9" stroke="#111" stroke-width="0.9"/>
<text x="479.7" y="347.9" font-size="5.77" text-anchor="end" fill="#151515">0.05</text>
<line x1="479.6" y1="370.6" x2="482.6" y2="370.6" stroke="#111" stroke-width="0.9"/>
<text x="479.7" y="372.6" font-size="5.77" text-anchor="end" fill="#151515">0.00</text>
<line x1="494.3" y1="370.6" x2="494.3" y2="373.2" stroke="#111" stroke-width="0.9"/>
<text transform="translate(497.7 378.2) rotate(-45)" font-size="7.19" text-anchor="end" fill="#111" stroke="#111" stroke-width="0.3">Untreated</text>
<line x1="511.8" y1="370.6" x2="511.8" y2="373.2" stroke="#111" stroke-width="0.9"/>
<text transform="translate(513.7 378.6) rotate(-45)" font-size="5.77" text-anchor="end" fill="#111" stroke="#111" stroke-width="0.12">OPC</text>
<line x1="529.2" y1="370.6" x2="529.2" y2="373.2" stroke="#111" stroke-width="0.9"/>
<text transform="translate(531.1 378.6) rotate(-45)" font-size="5.77" text-anchor="end" fill="#111" stroke="#111" stroke-width="0.12">Andro</text>
<line x1="546.8" y1="370.6" x2="546.8" y2="373.2" stroke="#111" stroke-width="0.9"/>
<text transform="translate(548.7 378.6) rotate(-45)" font-size="5.77" text-anchor="end" fill="#111" stroke="#111" stroke-width="0.12">OPC+Andro</text>
<line x1="494.6" y1="285.5" x2="546.8" y2="285.5" stroke="#1c1c1c" stroke-width="1.05"/>
<text x="518.1" y="285" font-size="8.17" text-anchor="middle" fill="#111" stroke="#111" stroke-width="0.22">****</text>
<line x1="494.6" y1="295.5" x2="529.4" y2="295.5" stroke="#1c1c1c" stroke-width="1.05"/>
<text x="511.6" y="295" font-size="8.17" text-anchor="middle" fill="#111" stroke="#111" stroke-width="0.22">****</text>
<line x1="512" y1="305.5" x2="546.8" y2="305.5" stroke="#1c1c1c" stroke-width="1.05"/>
<text x="528.1" y="305" font-size="8.17" text-anchor="middle" fill="#111" stroke="#111" stroke-width="0.22">****</text>
<line x1="511.4" y1="316.5" x2="529" y2="316.5" stroke="#1c1c1c" stroke-width="1.05"/>
<text x="520.4" y="316" font-size="8.17" text-anchor="middle" fill="#111" stroke="#111" stroke-width="0.22">****</text>
<text transform="translate(465.2 334) rotate(-90)" font-size="6.27" text-anchor="middle" fill="#222">Relative expression</text>
<path d="M596.0 370.0V369.6M592.8 369.6H599.2" stroke="#111" stroke-width="0.9" fill="none"/>
<rect x="589.6" y="370.0" width="12.8" height="0.4" fill="#000000"/>
<path d="M615.0 369.8V369.2M611.8 369.2H618.2" stroke="#111" stroke-width="0.9" fill="none"/>
<rect x="608.6" y="369.8" width="12.8" height="0.6" fill="#5e5e5e"/>
<path d="M634.0 320.0V317.6M630.8 317.6H637.2" stroke="#111" stroke-width="0.9" fill="none"/>
<rect x="627.6" y="320.0" width="12.8" height="50.4" fill="#05bd05"/>
<path d="M653.0 305.0V302.2M649.8 302.2H656.2" stroke="#111" stroke-width="0.9" fill="none"/>
<rect x="646.6" y="305.0" width="12.8" height="65.4" fill="#027f02"/>
<path d="M582.5 288.5V370.5M580.6 370.5H667" stroke="#111" stroke-width="1.05" fill="none"/>
<line x1="579.0" y1="289.0" x2="582" y2="289.0" stroke="#111" stroke-width="0.9"/>
<text x="579.1" y="291.0" font-size="6.23" text-anchor="end" fill="#151515">0.05</text>
<line x1="579.0" y1="305.3" x2="582" y2="305.3" stroke="#111" stroke-width="0.9"/>
<text x="579.1" y="307.3" font-size="6.23" text-anchor="end" fill="#151515">0.04</text>
<line x1="579.0" y1="321.6" x2="582" y2="321.6" stroke="#111" stroke-width="0.9"/>
<text x="579.1" y="323.6" font-size="6.23" text-anchor="end" fill="#151515">0.03</text>
<line x1="579.0" y1="337.8" x2="582" y2="337.8" stroke="#111" stroke-width="0.9"/>
<text x="579.1" y="339.8" font-size="6.23" text-anchor="end" fill="#151515">0.02</text>
<line x1="579.0" y1="354.1" x2="582" y2="354.1" stroke="#111" stroke-width="0.9"/>
<text x="579.1" y="356.1" font-size="6.23" text-anchor="end" fill="#151515">0.01</text>
<line x1="579.0" y1="370.4" x2="582" y2="370.4" stroke="#111" stroke-width="0.9"/>
<text x="579.1" y="372.4" font-size="6.23" text-anchor="end" fill="#151515">0.00</text>
<line x1="596.0" y1="370.4" x2="596.0" y2="373.0" stroke="#111" stroke-width="0.9"/>
<text transform="translate(599.4 378.0) rotate(-45)" font-size="7.81" text-anchor="end" fill="#111" stroke="#111" stroke-width="0.3">Untreated</text>
<line x1="615.0" y1="370.4" x2="615.0" y2="373.0" stroke="#111" stroke-width="0.9"/>
<text transform="translate(616.9 378.4) rotate(-45)" font-size="6.23" text-anchor="end" fill="#111" stroke="#111" stroke-width="0.12">OPC</text>
<line x1="634.0" y1="370.4" x2="634.0" y2="373.0" stroke="#111" stroke-width="0.9"/>
<text transform="translate(635.9 378.4) rotate(-45)" font-size="6.23" text-anchor="end" fill="#111" stroke="#111" stroke-width="0.12">Andro</text>
<line x1="653.0" y1="370.4" x2="653.0" y2="373.0" stroke="#111" stroke-width="0.9"/>
<text transform="translate(654.9 378.4) rotate(-45)" font-size="6.23" text-anchor="end" fill="#111" stroke="#111" stroke-width="0.12">OPC+Andro</text>
<line x1="596" y1="272.5" x2="653.2" y2="272.5" stroke="#1c1c1c" stroke-width="1.05"/>
<text x="621.6" y="272" font-size="8.87" text-anchor="middle" fill="#111" stroke="#111" stroke-width="0.22">****</text>
<line x1="596" y1="281.5" x2="634" y2="281.5" stroke="#1c1c1c" stroke-width="1.05"/>
<text x="615.0" y="281" font-size="8.87" text-anchor="middle" fill="#111" stroke="#111" stroke-width="0.22">****</text>
<line x1="615" y1="289.5" x2="653.2" y2="289.5" stroke="#1c1c1c" stroke-width="1.05"/>
<text x="632.8" y="289" font-size="8.87" text-anchor="middle" fill="#111" stroke="#111" stroke-width="0.22">****</text>
<line x1="634.6" y1="299.5" x2="653.4" y2="299.5" stroke="#1c1c1c" stroke-width="1.05"/>
<text x="643.2" y="299" font-size="8.87" text-anchor="middle" fill="#111" stroke="#111" stroke-width="0.22">**</text>
<line x1="614.6" y1="314.5" x2="633.6" y2="314.5" stroke="#1c1c1c" stroke-width="1.05"/>
<text x="624.3" y="314" font-size="8.87" text-anchor="middle" fill="#111" stroke="#111" stroke-width="0.22">****</text>
<path d="M43.8 552.6V552.2M40.6 552.2H47.0" stroke="#111" stroke-width="0.9" fill="none"/>
<rect x="37.6" y="552.6" width="12.4" height="14.3" fill="#000000"/>
<path d="M62.1 547.4V541.4M58.9 541.4H65.3" stroke="#111" stroke-width="0.9" fill="none"/>
<rect x="55.9" y="547.4" width="12.4" height="19.5" fill="#5e5e5e"/>
<path d="M80.3 515.6V511.4M77.1 511.4H83.5" stroke="#111" stroke-width="0.9" fill="none"/>
<rect x="74.1" y="515.6" width="12.4" height="51.3" fill="#05bd05"/>
<path d="M98.8 502.4V499.4M95.6 499.4H102.0" stroke="#111" stroke-width="0.9" fill="none"/>
<rect x="92.6" y="502.4" width="12.4" height="64.5" fill="#027f02"/>
<path d="M31.5 488.1V566.5M30.0 566.5H111" stroke="#111" stroke-width="1.05" fill="none"/>
<line x1="28.4" y1="488.6" x2="31.4" y2="488.6" stroke="#111" stroke-width="0.9"/>
<text x="28.5" y="490.6" font-size="6.01" text-anchor="end" fill="#151515">0.0003</text>
<line x1="28.4" y1="514.7" x2="31.4" y2="514.7" stroke="#111" stroke-width="0.9"/>
<text x="28.5" y="516.7" font-size="6.01" text-anchor="end" fill="#151515">0.0002</text>
<line x1="28.4" y1="540.8" x2="31.4" y2="540.8" stroke="#111" stroke-width="0.9"/>
<text x="28.5" y="542.8" font-size="6.01" text-anchor="end" fill="#151515">0.0001</text>
<line x1="28.4" y1="566.9" x2="31.4" y2="566.9" stroke="#111" stroke-width="0.9"/>
<text x="28.5" y="568.9" font-size="6.01" text-anchor="end" fill="#151515">0.0000</text>
<line x1="43.8" y1="566.9" x2="43.8" y2="569.5" stroke="#111" stroke-width="0.9"/>
<text transform="translate(47.2 574.5) rotate(-45)" font-size="7.54" text-anchor="end" fill="#111" stroke="#111" stroke-width="0.3">Untreated</text>
<line x1="62.1" y1="566.9" x2="62.1" y2="569.5" stroke="#111" stroke-width="0.9"/>
<text transform="translate(64.0 574.9) rotate(-45)" font-size="6.01" text-anchor="end" fill="#111" stroke="#111" stroke-width="0.12">OPC</text>
<line x1="80.3" y1="566.9" x2="80.3" y2="569.5" stroke="#111" stroke-width="0.9"/>
<text transform="translate(82.2 574.9) rotate(-45)" font-size="6.01" text-anchor="end" fill="#111" stroke="#111" stroke-width="0.12">Andro</text>
<line x1="98.8" y1="566.9" x2="98.8" y2="569.5" stroke="#111" stroke-width="0.9"/>
<text transform="translate(100.7 574.9) rotate(-45)" font-size="6.01" text-anchor="end" fill="#111" stroke="#111" stroke-width="0.12">OPC+Andro</text>
<line x1="44" y1="475.5" x2="99" y2="475.5" stroke="#1c1c1c" stroke-width="1.05"/>
<text x="68.8" y="475" font-size="8.56" text-anchor="middle" fill="#111" stroke="#111" stroke-width="0.22">****</text>
<line x1="44" y1="486.5" x2="80.6" y2="486.5" stroke="#1c1c1c" stroke-width="1.05"/>
<text x="62.0" y="486" font-size="8.56" text-anchor="middle" fill="#111" stroke="#111" stroke-width="0.22">***</text>
<line x1="62.4" y1="497.5" x2="99" y2="497.5" stroke="#1c1c1c" stroke-width="1.05"/>
<text x="82.3" y="497" font-size="8.56" text-anchor="middle" fill="#111" stroke="#111" stroke-width="0.22">***</text>
<line x1="62" y1="508.5" x2="80" y2="508.5" stroke="#1c1c1c" stroke-width="1.05"/>
<text x="71.2" y="508" font-size="8.56" text-anchor="middle" fill="#111" stroke="#111" stroke-width="0.22">**</text>
<text transform="translate(5.7 527.5) rotate(-90)" font-size="6.42" text-anchor="middle" fill="#222">Relative expression</text>
<path d="M150.2 552.4V552.0M147.0 552.0H153.4" stroke="#111" stroke-width="0.9" fill="none"/>
<rect x="144.0" y="552.4" width="12.3" height="14.8" fill="#000000"/>
<path d="M168.2 549.0V546.0M165.0 546.0H171.4" stroke="#111" stroke-width="0.9" fill="none"/>
<rect x="162.0" y="549.0" width="12.3" height="18.2" fill="#5e5e5e"/>
<path d="M186.5 518.0V514.8M183.3 514.8H189.7" stroke="#111" stroke-width="0.9" fill="none"/>
<rect x="180.3" y="518.0" width="12.3" height="49.2" fill="#05bd05"/>
<path d="M204.7 509.0V499.6M201.5 499.6H207.9" stroke="#111" stroke-width="0.9" fill="none"/>
<rect x="198.5" y="509.0" width="12.3" height="58.2" fill="#027f02"/>
<path d="M137.5 488.9V567.5M135.6 567.5H217" stroke="#111" stroke-width="1.05" fill="none"/>
<line x1="134.0" y1="489.4" x2="137" y2="489.4" stroke="#111" stroke-width="0.9"/>
<text x="134.1" y="491.4" font-size="5.95" text-anchor="end" fill="#151515">0.00015</text>
<line x1="134.0" y1="515.3" x2="137" y2="515.3" stroke="#111" stroke-width="0.9"/>
<text x="134.1" y="517.3" font-size="5.95" text-anchor="end" fill="#151515">0.00010</text>
<line x1="134.0" y1="541.3" x2="137" y2="541.3" stroke="#111" stroke-width="0.9"/>
<text x="134.1" y="543.3" font-size="5.95" text-anchor="end" fill="#151515">0.00005</text>
<line x1="134.0" y1="567.2" x2="137" y2="567.2" stroke="#111" stroke-width="0.9"/>
<text x="134.1" y="569.2" font-size="5.95" text-anchor="end" fill="#151515">0.00000</text>
<line x1="150.2" y1="567.2" x2="150.2" y2="569.8" stroke="#111" stroke-width="0.9"/>
<text transform="translate(153.6 574.8) rotate(-45)" font-size="7.47" text-anchor="end" fill="#111" stroke="#111" stroke-width="0.3">Untreated</text>
<line x1="168.2" y1="567.2" x2="168.2" y2="569.8" stroke="#111" stroke-width="0.9"/>
<text transform="translate(170.1 575.2) rotate(-45)" font-size="5.95" text-anchor="end" fill="#111" stroke="#111" stroke-width="0.12">OPC</text>
<line x1="186.5" y1="567.2" x2="186.5" y2="569.8" stroke="#111" stroke-width="0.9"/>
<text transform="translate(188.4 575.2) rotate(-45)" font-size="5.95" text-anchor="end" fill="#111" stroke="#111" stroke-width="0.12">Andro</text>
<line x1="204.7" y1="567.2" x2="204.7" y2="569.8" stroke="#111" stroke-width="0.9"/>
<text transform="translate(206.6 575.2) rotate(-45)" font-size="5.95" text-anchor="end" fill="#111" stroke="#111" stroke-width="0.12">OPC+Andro</text>
<line x1="150.6" y1="479.5" x2="204.8" y2="479.5" stroke="#1c1c1c" stroke-width="1.05"/>
<text x="178.1" y="479" font-size="8.48" text-anchor="middle" fill="#111" stroke="#111" stroke-width="0.22">**</text>
<line x1="150.6" y1="488.5" x2="186.6" y2="488.5" stroke="#1c1c1c" stroke-width="1.05"/>
<text x="169.0" y="488" font-size="8.48" text-anchor="middle" fill="#111" stroke="#111" stroke-width="0.22">**</text>
<line x1="168.6" y1="497.5" x2="204.8" y2="497.5" stroke="#1c1c1c" stroke-width="1.05"/>
<text x="187.5" y="497" font-size="8.48" text-anchor="middle" fill="#111" stroke="#111" stroke-width="0.22">**</text>
<line x1="168" y1="509.5" x2="186" y2="509.5" stroke="#1c1c1c" stroke-width="1.05"/>
<text x="177.0" y="509" font-size="8.48" text-anchor="middle" fill="#111" stroke="#111" stroke-width="0.22">**</text>
<path d="M267.0 552.4V552.0M263.8 552.0H270.2" stroke="#111" stroke-width="0.9" fill="none"/>
<rect x="261.0" y="552.4" width="12" height="14.4" fill="#000000"/>
<path d="M285.0 549.6V548.0M281.8 548.0H288.2" stroke="#111" stroke-width="0.9" fill="none"/>
<rect x="279.0" y="549.6" width="12" height="17.2" fill="#5e5e5e"/>
<path d="M303.0 514.0V510.4M299.8 510.4H306.2" stroke="#111" stroke-width="0.9" fill="none"/>
<rect x="297.0" y="514.0" width="12" height="52.8" fill="#05bd05"/>
<path d="M321.0 501.2V497.6M317.8 497.6H324.2" stroke="#111" stroke-width="0.9" fill="none"/>
<rect x="315.0" y="501.2" width="12" height="65.6" fill="#027f02"/>
<path d="M255.5 489.3V566.5M253.6 566.5H333.6" stroke="#111" stroke-width="1.05" fill="none"/>
<line x1="252.0" y1="489.8" x2="255" y2="489.8" stroke="#111" stroke-width="0.9"/>
<text x="252.1" y="491.8" font-size="5.90" text-anchor="end" fill="#151515">0.04</text>
<line x1="252.0" y1="509.1" x2="255" y2="509.1" stroke="#111" stroke-width="0.9"/>
<text x="252.1" y="511.1" font-size="5.90" text-anchor="end" fill="#151515">0.03</text>
<line x1="252.0" y1="528.3" x2="255" y2="528.3" stroke="#111" stroke-width="0.9"/>
<text x="252.1" y="530.3" font-size="5.90" text-anchor="end" fill="#151515">0.02</text>
<line x1="252.0" y1="547.5" x2="255" y2="547.5" stroke="#111" stroke-width="0.9"/>
<text x="252.1" y="549.5" font-size="5.90" text-anchor="end" fill="#151515">0.01</text>
<line x1="252.0" y1="566.8" x2="255" y2="566.8" stroke="#111" stroke-width="0.9"/>
<text x="252.1" y="568.8" font-size="5.90" text-anchor="end" fill="#151515">0.00</text>
<line x1="267.0" y1="566.8" x2="267.0" y2="569.4" stroke="#111" stroke-width="0.9"/>
<text transform="translate(270.4 574.4) rotate(-45)" font-size="7.40" text-anchor="end" fill="#111" stroke="#111" stroke-width="0.3">Untreated</text>
<line x1="285.0" y1="566.8" x2="285.0" y2="569.4" stroke="#111" stroke-width="0.9"/>
<text transform="translate(286.9 574.8) rotate(-45)" font-size="5.90" text-anchor="end" fill="#111" stroke="#111" stroke-width="0.12">OPC</text>
<line x1="303.0" y1="566.8" x2="303.0" y2="569.4" stroke="#111" stroke-width="0.9"/>
<text transform="translate(304.9 574.8) rotate(-45)" font-size="5.90" text-anchor="end" fill="#111" stroke="#111" stroke-width="0.12">Andro</text>
<line x1="321.0" y1="566.8" x2="321.0" y2="569.4" stroke="#111" stroke-width="0.9"/>
<text transform="translate(322.9 574.8) rotate(-45)" font-size="5.90" text-anchor="end" fill="#111" stroke="#111" stroke-width="0.12">OPC+Andro</text>
<line x1="267" y1="469.5" x2="321.2" y2="469.5" stroke="#1c1c1c" stroke-width="1.05"/>
<text x="294.6" y="469" font-size="8.40" text-anchor="middle" fill="#111" stroke="#111" stroke-width="0.22">****</text>
<line x1="267" y1="479.5" x2="303.4" y2="479.5" stroke="#1c1c1c" stroke-width="1.05"/>
<text x="283.8" y="479" font-size="8.40" text-anchor="middle" fill="#111" stroke="#111" stroke-width="0.22">****</text>
<line x1="285.4" y1="488.5" x2="321.2" y2="488.5" stroke="#1c1c1c" stroke-width="1.05"/>
<text x="303.1" y="488" font-size="8.40" text-anchor="middle" fill="#111" stroke="#111" stroke-width="0.22">****</text>
<line x1="304" y1="495.5" x2="321.6" y2="495.5" stroke="#1c1c1c" stroke-width="1.05"/>
<text x="312.8" y="495" font-size="8.40" text-anchor="middle" fill="#111" stroke="#111" stroke-width="0.22">*</text>
<line x1="284.6" y1="508.5" x2="302.6" y2="508.5" stroke="#1c1c1c" stroke-width="1.05"/>
<text x="293.8" y="508" font-size="8.40" text-anchor="middle" fill="#111" stroke="#111" stroke-width="0.22">****</text>
<text transform="translate(236.6 528.5) rotate(-90)" font-size="6.30" text-anchor="middle" fill="#222">Relative expression</text>
<path d="M369.8 558.8V558.4M366.6 558.4H373.0" stroke="#111" stroke-width="0.9" fill="none"/>
<rect x="363.6" y="558.8" width="12.5" height="8.6" fill="#000000"/>
<path d="M388.3 560.4V560.1M385.1 560.1H391.5" stroke="#111" stroke-width="0.9" fill="none"/>
<rect x="382.1" y="560.4" width="12.5" height="7.0" fill="#5e5e5e"/>
<path d="M407.1 507.6V505.4M403.9 505.4H410.3" stroke="#111" stroke-width="0.9" fill="none"/>
<rect x="400.9" y="507.6" width="12.5" height="59.8" fill="#05bd05"/>
<path d="M425.7 511.2V508.0M422.5 508.0H428.9" stroke="#111" stroke-width="0.9" fill="none"/>
<rect x="419.4" y="511.2" width="12.5" height="56.2" fill="#027f02"/>
<path d="M357.5 486.5V567.5M355.6 567.5H439" stroke="#111" stroke-width="1.05" fill="none"/>
<line x1="354.0" y1="487.0" x2="357" y2="487.0" stroke="#111" stroke-width="0.9"/>
<text x="354.1" y="489.0" font-size="6.11" text-anchor="end" fill="#151515">0.04</text>
<line x1="354.0" y1="507.1" x2="357" y2="507.1" stroke="#111" stroke-width="0.9"/>
<text x="354.1" y="509.1" font-size="6.11" text-anchor="end" fill="#151515">0.03</text>
<line x1="354.0" y1="527.2" x2="357" y2="527.2" stroke="#111" stroke-width="0.9"/>
<text x="354.1" y="529.2" font-size="6.11" text-anchor="end" fill="#151515">0.02</text>
<line x1="354.0" y1="547.3" x2="357" y2="547.3" stroke="#111" stroke-width="0.9"/>
<text x="354.1" y="549.3" font-size="6.11" text-anchor="end" fill="#151515">0.01</text>
<line x1="354.0" y1="567.4" x2="357" y2="567.4" stroke="#111" stroke-width="0.9"/>
<text x="354.1" y="569.4" font-size="6.11" text-anchor="end" fill="#151515">0.00</text>
<line x1="369.8" y1="567.4" x2="369.8" y2="570.0" stroke="#111" stroke-width="0.9"/>
<text transform="translate(373.2 575.0) rotate(-45)" font-size="7.66" text-anchor="end" fill="#111" stroke="#111" stroke-width="0.3">Untreated</text>
<line x1="388.3" y1="567.4" x2="388.3" y2="570.0" stroke="#111" stroke-width="0.9"/>
<text transform="translate(390.2 575.4) rotate(-45)" font-size="6.11" text-anchor="end" fill="#111" stroke="#111" stroke-width="0.12">OPC</text>
<line x1="407.1" y1="567.4" x2="407.1" y2="570.0" stroke="#111" stroke-width="0.9"/>
<text transform="translate(409.0 575.4) rotate(-45)" font-size="6.11" text-anchor="end" fill="#111" stroke="#111" stroke-width="0.12">Andro</text>
<line x1="425.7" y1="567.4" x2="425.7" y2="570.0" stroke="#111" stroke-width="0.9"/>
<text transform="translate(427.6 575.4) rotate(-45)" font-size="6.11" text-anchor="end" fill="#111" stroke="#111" stroke-width="0.12">OPC+Andro</text>
<line x1="370" y1="471.5" x2="425.8" y2="471.5" stroke="#1c1c1c" stroke-width="1.05"/>
<text x="396.1" y="471" font-size="8.70" text-anchor="middle" fill="#111" stroke="#111" stroke-width="0.22">****</text>
<line x1="370" y1="480.5" x2="407.4" y2="480.5" stroke="#1c1c1c" stroke-width="1.05"/>
<text x="388.3" y="480" font-size="8.70" text-anchor="middle" fill="#111" stroke="#111" stroke-width="0.22">****</text>
<line x1="389" y1="491.5" x2="425.8" y2="491.5" stroke="#1c1c1c" stroke-width="1.05"/>
<text x="405.8" y="491" font-size="8.70" text-anchor="middle" fill="#111" stroke="#111" stroke-width="0.22">****</text>
<line x1="388.4" y1="502.5" x2="406.6" y2="502.5" stroke="#1c1c1c" stroke-width="1.05"/>
<text x="396.8" y="502" font-size="8.70" text-anchor="middle" fill="#111" stroke="#111" stroke-width="0.22">****</text>
<path d="M494.0 559.6V559.2M490.8 559.2H497.2" stroke="#111" stroke-width="0.9" fill="none"/>
<rect x="488.0" y="559.6" width="12" height="8.0" fill="#000000"/>
<path d="M512.0 557.4V556.6M508.8 556.6H515.2" stroke="#111" stroke-width="0.9" fill="none"/>
<rect x="506.0" y="557.4" width="12" height="10.2" fill="#5e5e5e"/>
<path d="M530.0 528.0V525.2M526.8 525.2H533.2" stroke="#111" stroke-width="0.9" fill="none"/>
<rect x="524.0" y="528.0" width="12" height="39.6" fill="#05bd05"/>
<path d="M548.0 519.2V515.4M544.8 515.4H551.2" stroke="#111" stroke-width="0.9" fill="none"/>
<rect x="542.0" y="519.2" width="12" height="48.4" fill="#027f02"/>
<path d="M481.5 490.1V567.5M480.2 567.5H560" stroke="#111" stroke-width="1.05" fill="none"/>
<line x1="478.6" y1="490.6" x2="481.6" y2="490.6" stroke="#111" stroke-width="0.9"/>
<text x="478.7" y="492.6" font-size="5.90" text-anchor="end" fill="#151515">0.15</text>
<line x1="478.6" y1="516.3" x2="481.6" y2="516.3" stroke="#111" stroke-width="0.9"/>
<text x="478.7" y="518.3" font-size="5.90" text-anchor="end" fill="#151515">0.10</text>
<line x1="478.6" y1="541.9" x2="481.6" y2="541.9" stroke="#111" stroke-width="0.9"/>
<text x="478.7" y="543.9" font-size="5.90" text-anchor="end" fill="#151515">0.05</text>
<line x1="478.6" y1="567.6" x2="481.6" y2="567.6" stroke="#111" stroke-width="0.9"/>
<text x="478.7" y="569.6" font-size="5.90" text-anchor="end" fill="#151515">0.00</text>
<line x1="494.0" y1="567.6" x2="494.0" y2="570.2" stroke="#111" stroke-width="0.9"/>
<text transform="translate(497.4 575.2) rotate(-45)" font-size="7.40" text-anchor="end" fill="#111" stroke="#111" stroke-width="0.3">Untreated</text>
<line x1="512.0" y1="567.6" x2="512.0" y2="570.2" stroke="#111" stroke-width="0.9"/>
<text transform="translate(513.9 575.6) rotate(-45)" font-size="5.90" text-anchor="end" fill="#111" stroke="#111" stroke-width="0.12">OPC</text>
<line x1="530.0" y1="567.6" x2="530.0" y2="570.2" stroke="#111" stroke-width="0.9"/>
<text transform="translate(531.9 575.6) rotate(-45)" font-size="5.90" text-anchor="end" fill="#111" stroke="#111" stroke-width="0.12">Andro</text>
<line x1="548.0" y1="567.6" x2="548.0" y2="570.2" stroke="#111" stroke-width="0.9"/>
<text transform="translate(549.9 575.6) rotate(-45)" font-size="5.90" text-anchor="end" fill="#111" stroke="#111" stroke-width="0.12">OPC+Andro</text>
<line x1="495" y1="489.5" x2="548.6" y2="489.5" stroke="#1c1c1c" stroke-width="1.05"/>
<text x="520.5" y="489" font-size="8.40" text-anchor="middle" fill="#111" stroke="#111" stroke-width="0.22">****</text>
<line x1="495" y1="499.5" x2="531" y2="499.5" stroke="#1c1c1c" stroke-width="1.05"/>
<text x="513.4" y="499" font-size="8.40" text-anchor="middle" fill="#111" stroke="#111" stroke-width="0.22">****</text>
<line x1="513" y1="510.5" x2="548.6" y2="510.5" stroke="#1c1c1c" stroke-width="1.05"/>
<text x="531.6" y="510" font-size="8.40" text-anchor="middle" fill="#111" stroke="#111" stroke-width="0.22">****</text>
<line x1="512.4" y1="521.5" x2="530.4" y2="521.5" stroke="#1c1c1c" stroke-width="1.05"/>
<text x="521.0" y="521" font-size="8.40" text-anchor="middle" fill="#111" stroke="#111" stroke-width="0.22">****</text>
<text transform="translate(463.8 529.5) rotate(-90)" font-size="6.30" text-anchor="middle" fill="#222">Relative expression</text>
<path d="M594.5 546.6V545.6M591.3 545.6H597.7" stroke="#111" stroke-width="0.9" fill="none"/>
<rect x="588.5" y="546.6" width="12.1" height="20.4" fill="#000000"/>
<path d="M612.7 549.6V548.6M609.5 548.6H615.9" stroke="#111" stroke-width="0.9" fill="none"/>
<rect x="606.7" y="549.6" width="12.1" height="17.4" fill="#5e5e5e"/>
<path d="M630.8 509.4V507.6M627.6 507.6H634.0" stroke="#111" stroke-width="0.9" fill="none"/>
<rect x="624.8" y="509.4" width="12.1" height="57.6" fill="#05bd05"/>
<path d="M648.9 504.2V500.4M645.7 500.4H652.1" stroke="#111" stroke-width="0.9" fill="none"/>
<rect x="642.9" y="504.2" width="12.1" height="62.8" fill="#027f02"/>
<path d="M582.5 489.1V567.5M580.6 567.5H661.6" stroke="#111" stroke-width="1.05" fill="none"/>
<line x1="579.0" y1="489.6" x2="582" y2="489.6" stroke="#111" stroke-width="0.9"/>
<text x="579.1" y="491.6" font-size="5.94" text-anchor="end" fill="#151515">0.06</text>
<line x1="579.0" y1="515.4" x2="582" y2="515.4" stroke="#111" stroke-width="0.9"/>
<text x="579.1" y="517.4" font-size="5.94" text-anchor="end" fill="#151515">0.04</text>
<line x1="579.0" y1="541.2" x2="582" y2="541.2" stroke="#111" stroke-width="0.9"/>
<text x="579.1" y="543.2" font-size="5.94" text-anchor="end" fill="#151515">0.02</text>
<line x1="579.0" y1="567.0" x2="582" y2="567.0" stroke="#111" stroke-width="0.9"/>
<text x="579.1" y="569.0" font-size="5.94" text-anchor="end" fill="#151515">0.00</text>
<line x1="594.5" y1="567" x2="594.5" y2="569.6" stroke="#111" stroke-width="0.9"/>
<text transform="translate(597.9 574.6) rotate(-45)" font-size="7.45" text-anchor="end" fill="#111" stroke="#111" stroke-width="0.3">Untreated</text>
<line x1="612.7" y1="567" x2="612.7" y2="569.6" stroke="#111" stroke-width="0.9"/>
<text transform="translate(614.6 575.0) rotate(-45)" font-size="5.94" text-anchor="end" fill="#111" stroke="#111" stroke-width="0.12">OPC</text>
<line x1="630.8" y1="567" x2="630.8" y2="569.6" stroke="#111" stroke-width="0.9"/>
<text transform="translate(632.7 575.0) rotate(-45)" font-size="5.94" text-anchor="end" fill="#111" stroke="#111" stroke-width="0.12">Andro</text>
<line x1="648.9" y1="567" x2="648.9" y2="569.6" stroke="#111" stroke-width="0.9"/>
<text transform="translate(650.8 575.0) rotate(-45)" font-size="5.94" text-anchor="end" fill="#111" stroke="#111" stroke-width="0.12">OPC+Andro</text>
<line x1="595.6" y1="475.5" x2="649.8" y2="475.5" stroke="#1c1c1c" stroke-width="1.05"/>
<text x="621.3" y="475" font-size="8.46" text-anchor="middle" fill="#111" stroke="#111" stroke-width="0.22">****</text>
<line x1="595.6" y1="484.5" x2="631.6" y2="484.5" stroke="#1c1c1c" stroke-width="1.05"/>
<text x="613.8" y="484" font-size="8.46" text-anchor="middle" fill="#111" stroke="#111" stroke-width="0.22">****</text>
<line x1="613.6" y1="492.5" x2="649.8" y2="492.5" stroke="#1c1c1c" stroke-width="1.05"/>
<text x="632.3" y="492" font-size="8.46" text-anchor="middle" fill="#111" stroke="#111" stroke-width="0.22">****</text>
<line x1="613" y1="503.5" x2="631" y2="503.5" stroke="#1c1c1c" stroke-width="1.05"/>
<text x="622.0" y="503" font-size="8.46" text-anchor="middle" fill="#111" stroke="#111" stroke-width="0.22">****</text>
</svg>
</body></html>
